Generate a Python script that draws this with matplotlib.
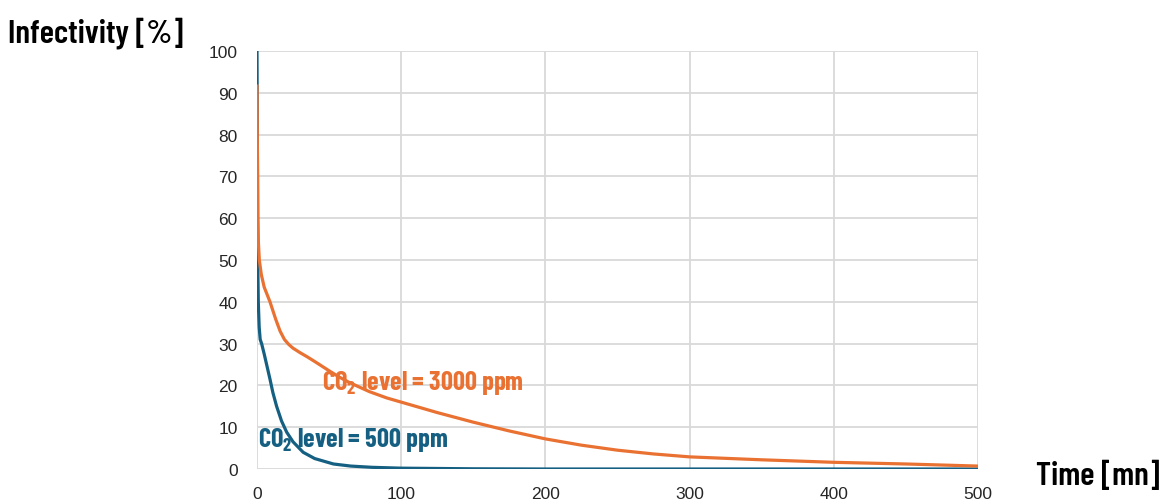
import matplotlib
matplotlib.use("Agg")
import matplotlib.pyplot as plt

# dati (tempo in minuti, infettivita' in %)
t_500 = [0, 0.3, 0.5, 0.9, 1.5, 2.2, 3.2, 5, 7, 9, 11, 13.6, 17, 20.6, 25, 32, 40, 53, 65, 80, 100, 150, 200, 300, 400, 500]
y_500 = [100, 75, 50, 40, 34, 31, 30, 27.5, 24.5, 21.5, 18.3, 15, 11.5, 8.8, 6.5, 4, 2.5, 1.2, 0.7, 0.4, 0.2, 0.05, 0, 0, 0, 0]

t_3000 = [0, 0.3, 0.6, 1, 1.6, 3, 5, 9, 13, 16, 19, 22, 25, 30, 35, 41, 50, 57, 64, 78, 90, 100,
          125, 150, 175, 200, 225, 250, 275, 300, 350, 400, 450, 500]
y_3000 = [92, 75, 60, 54, 50, 46.5, 43.5, 40, 35.8, 33, 31, 29.8, 28.9, 27.8, 26.8, 25.5, 23.5, 22, 20.7, 18.5, 17, 16,
          13.5, 11.2, 9.1, 7.2, 5.7, 4.5, 3.6, 2.9, 2.2, 1.6, 1.2, 0.7]

x_ticks = [0, 100, 200, 300, 400, 500]
y_ticks = [0, 10, 20, 30, 40, 50, 60, 70, 80, 90, 100]

blu = '#156082'
arancio = '#E97132'
font_titoli = ['Barlow Condensed', 'DejaVu Sans']

plt.rcParams['mathtext.fontset'] = 'custom'
plt.rcParams['mathtext.rm'] = 'Barlow Condensed:bold'
plt.rcParams['mathtext.it'] = 'Barlow Condensed:bold'
plt.rcParams['mathtext.bf'] = 'Barlow Condensed:bold'

fig = plt.figure(figsize=(11.66, 5.02), dpi=100)
ax = fig.add_axes([257/1166, 32/502, 721/1166, 418/502])

ax.plot(t_500, y_500, color=blu, lw=2.3, solid_capstyle='butt', solid_joinstyle='round', zorder=3)
ax.plot(t_3000, y_3000, color=arancio, lw=2.3, solid_capstyle='butt', solid_joinstyle='round', zorder=4)

ax.set_xlim(0, 500)
ax.set_ylim(0, 100)
ax.set_xticks(x_ticks)
ax.set_yticks(y_ticks)
ax.grid(True, color='#d9d9d9', lw=1.3)
ax.set_axisbelow(True)
for s in ax.spines.values():
    s.set_visible(False)
ax.tick_params(length=0, labelsize=12.5, labelcolor='#262626')
ax.tick_params(axis='x', pad=12)
ax.tick_params(axis='y', pad=14)
for lab in ax.get_xticklabels() + ax.get_yticklabels():
    lab.set_family(['Liberation Sans', 'DejaVu Sans'])

ax.text(45, 20.8, 'CO$_2$ level = 3000 ppm', color=arancio, fontsize=19, fontweight='bold',
        family=font_titoli, va='center', ha='left', zorder=5)
ax.text(0.5, 7.2, 'CO$_2$ level = 500 ppm', color=blu, fontsize=19, fontweight='bold',
        family=font_titoli, va='center', ha='left', zorder=5)

fig.text(8/1166, 1 - 33/502, 'Infectivity [%]', fontsize=24, fontweight='semibold',
         family=font_titoli, va='center', ha='left', color='black')
fig.text(1160/1166, 1 - 476/502, 'Time [mn]', fontsize=24, fontweight='semibold',
         family=font_titoli, va='center', ha='right', color='black')

fig.savefig('out.png', dpi=100)
